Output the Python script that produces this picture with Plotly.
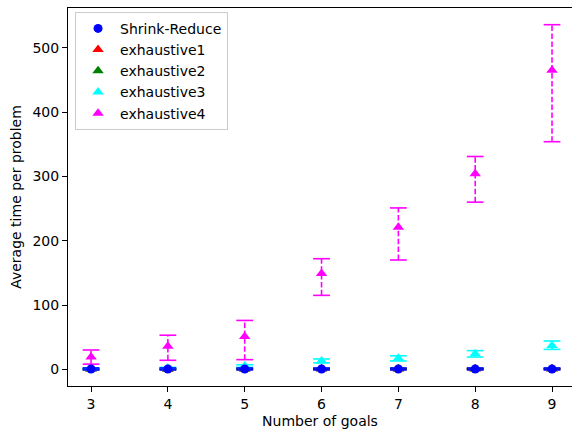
import plotly.graph_objects as go

# Number of goals per problem
goals = [3, 4, 5, 6, 7, 8, 9]

# Average time per problem (mean) with asymmetric error extents
shrink_mean = [0.5, 0.5, 0.5, 0.5, 0.5, 0.5, 0.5]
shrink_plus = [1.5, 1.5, 1.5, 1.5, 1.5, 1.5, 1.5]
shrink_minus = [1.5, 1.5, 1.5, 1.5, 1.5, 1.5, 1.5]

exh1_mean = [0.2, 0.2, 0.3, 0.3, 0.3, 0.3, 0.3]
exh1_plus = [0.5, 0.5, 0.5, 0.5, 0.5, 0.5, 0.5]
exh1_minus = [0.5, 0.5, 0.5, 0.5, 0.5, 0.5, 0.5]

exh2_mean = [0.4, 0.5, 0.6, 0.7, 0.8, 0.9, 1.0]
exh2_plus = [0.5, 0.5, 0.5, 0.5, 0.5, 0.5, 0.5]
exh2_minus = [0.5, 0.5, 0.5, 0.5, 0.5, 0.5, 0.5]

exh3_mean = [1, 2, 5, 13, 17, 24, 37]
exh3_plus = [1, 1, 2, 3, 4, 5, 7]
exh3_minus = [1, 1, 2, 3, 4, 5, 6]

exh4_mean = [19, 36, 51, 149, 221, 304, 465]
exh4_plus = [11, 17, 25, 23, 30, 27, 71]
exh4_minus = [11, 22, 36, 34, 51, 44, 111]

series = [
    ("Shrink-Reduce", shrink_mean, shrink_plus, shrink_minus, "#0000ff", "circle", 9),
    ("exhaustive1", exh1_mean, exh1_plus, exh1_minus, "#ff0000", "triangle-up", 10),
    ("exhaustive2", exh2_mean, exh2_plus, exh2_minus, "#008000", "triangle-up", 10),
    ("exhaustive3", exh3_mean, exh3_plus, exh3_minus, "#00ffff", "triangle-up", 10),
    ("exhaustive4", exh4_mean, exh4_plus, exh4_minus, "#ff00ff", "triangle-up", 10),
]

fig = go.Figure()

# Draw exhaustive series first, Shrink-Reduce last so it sits on top
draw_order = series[1:] + series[:1]
names = [s[0] for s in series]
for name, mean, plus, minus, color, symbol, msize in draw_order:
    lo = [m - e for m, e in zip(mean, minus)]
    hi = [m + e for m, e in zip(mean, plus)]
    # dashed vertical error segments
    xs, ys = [], []
    for g, a, b in zip(goals, lo, hi):
        xs += [g, g, None]
        ys += [a, b, None]
    fig.add_trace(go.Scatter(
        x=xs, y=ys, mode="lines", showlegend=False, hoverinfo="skip",
        line=dict(color=color, width=1.6, dash="5.5px,2.4px"),
    ))
    # caps
    fig.add_trace(go.Scatter(
        x=goals + goals, y=lo + hi, mode="markers", showlegend=False, hoverinfo="skip",
        marker=dict(symbol="line-ew-open", size=12, color=color,
                    line=dict(color=color, width=1.6)),
    ))
    # means
    fig.add_trace(go.Scatter(
        x=goals, y=mean, mode="markers", name=name, legendrank=names.index(name) + 1,
        marker=dict(symbol=symbol, size=msize, color=color, line=dict(width=0)),
    ))

font = dict(family="DejaVu Sans", size=14, color="#000000")

fig.update_layout(
    width=572, height=433,
    margin=dict(l=68, r=0, t=8, b=47),
    paper_bgcolor="white", plot_bgcolor="white",
    font=font,
    showlegend=True,
    legend=dict(
        x=0.014, y=0.99, xanchor="left", yanchor="top",
        bgcolor="rgba(255,255,255,0.8)", bordercolor="#cccccc", borderwidth=1,
        font=font,
        itemwidth=34,
    ),
    xaxis=dict(
        range=[2.7, 9.26], tickmode="array", tickvals=goals,
        ticks="outside", ticklen=5, tickwidth=1, tickcolor="#000000",
        showline=True, linecolor="#000000", linewidth=1, mirror=True,
        showgrid=False, zeroline=False,
        title=dict(text="Number of goals", font=font, standoff=5),
    ),
    yaxis=dict(
        range=[-26, 562], tickmode="array", tickvals=[0, 100, 200, 300, 400, 500],
        ticks="outside", ticklen=5, tickwidth=1, tickcolor="#000000",
        showline=True, linecolor="#000000", linewidth=1, mirror=False,
        showgrid=False, zeroline=False,
        title=dict(text="Average time per problem", font=font, standoff=7),
    ),
)

fig.write_html("out.html")
